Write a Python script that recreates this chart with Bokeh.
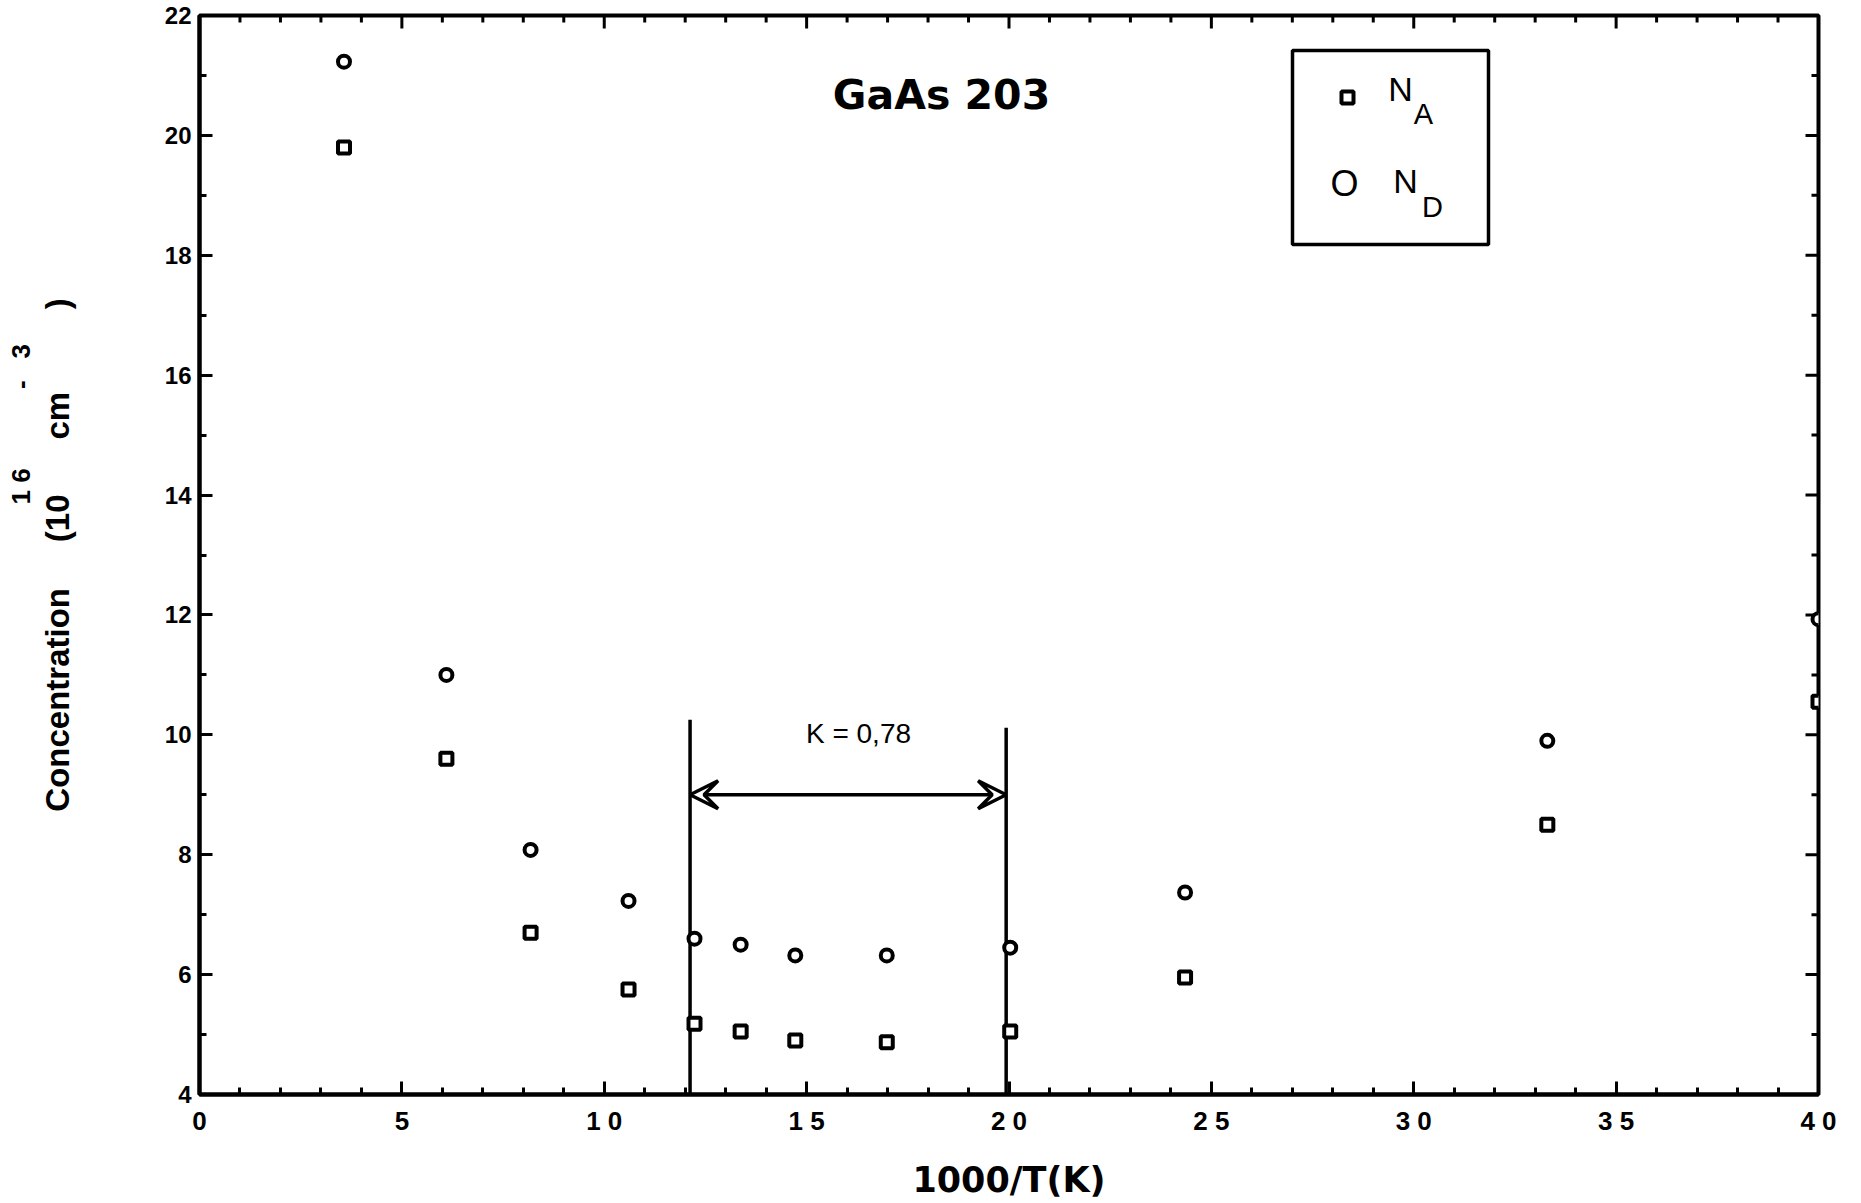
from bokeh.plotting import figure
from bokeh.models import (Range1d, LinearAxis, SingleIntervalTicker, Label, Arrow, VeeHead, Title)
from bokeh.embed import file_html
from bokeh.resources import INLINE

# ---------------- data ----------------
inv_T = [3.57, 6.10, 8.18, 10.6, 12.23, 13.37, 14.72, 16.98, 20.03, 24.35, 33.3, 40.0]
N_A = [19.8, 9.6, 6.7, 5.75, 5.18, 5.05, 4.9, 4.87, 5.05, 5.95, 8.5, 10.55]
N_D = [21.23, 11.0, 8.08, 7.23, 6.6, 6.5, 6.32, 6.32, 6.45, 7.37, 9.9, 11.93]

x_ticks = [0, 5, 10, 15, 20, 25, 30, 35, 40]
x_tick_labels = ["0", "5", "1 0", "1 5", "2 0", "2 5", "3 0", "3 5", "4 0"]

k_bounds = [12.12, 19.93]
k_tops = [10.25, 10.12]
arrow_y = 9.0
k_text = "K = 0,78"
title_text = "GaAs 203"
x_label = "1000/T(K)"
NB = "\u00a0"
y_label = "Concentration" + NB * 4 + " (10" + NB * 6 + "cm" + NB * 9 + ")"
y_label_exp = "1 6" + NB * 11 + "-" + NB * 3 + "3"

# ---------------- layout ----------------
FONT = "Liberation Sans"
WIDE = "DejaVu Sans"
W, H = 1861, 1203
FL, FR, FT, FB = 199, 1818, 15, 1094   # frame edges in pixels
X0, X1, Y0, Y1 = 0, 40, 4, 22


def px2x(X):
    return X0 + (X - FL) / (FR - FL) * (X1 - X0)


def py2y(Y):
    return Y1 - (Y - FT) / (FB - FT) * (Y1 - Y0)


def pxlen_x(n):
    return n / (FR - FL) * (X1 - X0)


def pxlen_y(n):
    return n / (FB - FT) * (Y1 - Y0)


p = figure(width=W, height=H, x_range=Range1d(X0, X1), y_range=Range1d(Y0, Y1),
           output_backend="svg", toolbar_location=None,
           x_axis_location=None, y_axis_location=None,
           min_border_left=FL, min_border_right=W - FR,
           min_border_top=FT, min_border_bottom=H - FB)
p.grid.visible = False
p.outline_line_color = "black"
p.outline_line_width = 4
p.background_fill_color = "white"
p.border_fill_color = "white"

MAJ, MIN = 13, 7


def style_axis(ax, size):
    ax.axis_line_width = 4
    ax.axis_line_color = "black"
    ax.major_tick_in = MAJ
    ax.major_tick_out = 0
    ax.minor_tick_in = MIN
    ax.minor_tick_out = 0
    ax.major_tick_line_width = 3
    ax.minor_tick_line_width = 3
    ax.major_tick_line_color = "black"
    ax.minor_tick_line_color = "black"
    ax.major_label_text_font = FONT
    ax.major_label_text_font_style = "bold"
    ax.major_label_text_color = "black"
    ax.major_label_text_font_size = size
    ax.axis_label_text_font_style = "bold"
    ax.axis_label_text_color = "black"


xb = LinearAxis(ticker=SingleIntervalTicker(interval=5, num_minor_ticks=5))
style_axis(xb, "26px")
xb.major_label_overrides = {t: s for t, s in zip(x_ticks, x_tick_labels)}
xb.major_label_standoff = 11
xb.axis_label = x_label
xb.axis_label_text_font = WIDE
xb.axis_label_text_font_size = "35px"
xb.axis_label_standoff = 21
p.add_layout(xb, "below")

yl = LinearAxis(ticker=SingleIntervalTicker(interval=2, num_minor_ticks=2))
style_axis(yl, "24px")
yl.major_label_standoff = 8
yl.axis_label = y_label
yl.axis_label_text_font = FONT
yl.axis_label_text_font_size = "33px"
yl.axis_label_standoff = 86
p.add_layout(yl, "left")

# raised exponents of the y label, placed as an outer row of the left panel
p.add_layout(Title(text=y_label_exp, align="left", offset=FB - 504, standoff=0,
                   text_font=FONT, text_font_style="bold", text_font_size="26px",
                   text_color="black"), "left")

# mirrored ticks on the top and right frame edges
top_t = list(range(X0, X1 + 1))
top_len = [pxlen_y(MAJ if t % 5 == 0 else MIN) for t in top_t]
p.segment(x0=top_t, y0=[Y1] * len(top_t), x1=top_t, y1=[Y1 - d for d in top_len],
          line_color="black", line_width=3)
right_t = list(range(Y0, Y1 + 1))
right_len = [pxlen_x(MAJ if t % 2 == 0 else MIN) for t in right_t]
p.segment(x0=[X1] * len(right_t), y0=right_t, x1=[X1 - d for d in right_len], y1=right_t,
          line_color="black", line_width=3)

# ---------------- K region ----------------
p.segment(x0=k_bounds, y0=[Y0, Y0], x1=k_bounds, y1=k_tops, line_color="black", line_width=3.5)
p.add_layout(Arrow(x_start=k_bounds[0], x_end=k_bounds[1], y_start=arrow_y, y_end=arrow_y,
                   line_width=3.5, line_color="black",
                   start=VeeHead(size=28, fill_color="white", line_color="black", line_width=3.5),
                   end=VeeHead(size=28, fill_color="white", line_color="black", line_width=3.5)))
p.add_layout(Label(x=px2x(858), y=py2y(733), text=k_text, text_font=FONT, text_font_size="28px",
                   text_align="center", text_baseline="middle", text_color="black"))

# ---------------- data points ----------------
p.scatter(inv_T, N_A, marker="square", size=12, fill_color="white", line_color="black", line_width=4)
p.scatter(inv_T, N_D, marker="circle", size=12, fill_color="white", line_color="black", line_width=4)

# ---------------- title ----------------
p.add_layout(Label(x=px2x(941), y=py2y(94), text=title_text, text_font=WIDE, text_font_style="bold",
                   text_font_size="41px", text_align="center", text_baseline="middle", text_color="black"))

# ---------------- legend box ----------------
p.quad(left=[px2x(1292)], right=[px2x(1488)], top=[py2y(50)], bottom=[py2y(244)],
       fill_alpha=0, line_color="black", line_width=3.5)
p.scatter([px2x(1347)], [py2y(97)], marker="square", size=12, fill_color="white",
          line_color="black", line_width=4)
for txt, X, Y, fs in [("N", 1400, 88, "34px"), ("A", 1423, 113, "29px"),
                      ("O", 1344, 183, "36px"), ("N", 1405, 180, "34px"), ("D", 1432, 206, "29px")]:
    p.add_layout(Label(x=px2x(X), y=py2y(Y), text=txt, text_font=FONT, text_font_size=fs,
                       text_align="center", text_baseline="middle", text_color="black"))

open("out.html", "w").write(file_html(p, INLINE))
